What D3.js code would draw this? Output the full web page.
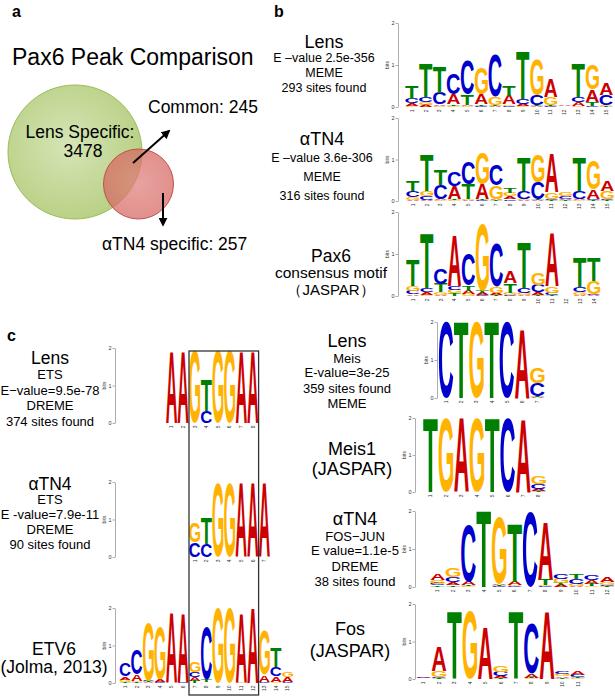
<!DOCTYPE html>
<html><head><meta charset="utf-8">
<script src="https://cdn.jsdelivr.net/npm/d3@7"></script>
<style>
body{margin:0;background:#fff}
svg{display:block}
text{font-family:"Liberation Sans",Arial,Helvetica,sans-serif}
</style>
</head><body>
<svg id="fig" width="615" height="697"></svg>
<script>
// ---------------- DATA ----------------
const bases = ["A", "C", "G", "T"];
const baseColors = ["#cc0000", "#0000cc", "#ffb300", "#008000"];

// Venn counts
const vennLabels = ["Lens Specific:", "3478", "Common: 245", "\u03b1TN4 specific: 257"];
const vennTitle = "Pax6 Peak Comparison";

// Logo columns: information (bits) per base, ordered [A, C, G, T]
const lensMeme = [
  [0.06,0.11,0.03,0.32],[0.05,0.12,0.07,0.80],[0.04,0.27,0.02,0.62],[0.25,0.50,0.02,0.04],
  [0.03,0.80,0.02,0.25],[0.24,0.03,0.63,0.03],[0.02,1.00,0.20,0.02],[0.20,0.03,0.03,0.24],
  [0.05,0.12,0.03,1.15],[0.02,0.24,0.83,0.02],[0.44,0.02,0.20,0.02],[0.02,0.01,0.01,0.01],
  [0.08,0.12,0.03,0.80],[0.28,0.03,0.60,0.10],[0.28,0.24,0.03,0.02]
];
const atn4Meme = [
  [0.03,0.14,0.06,0.26],[0.03,0.10,0.12,0.87],[0.03,0.33,0.02,0.36],[0.30,0.33,0.02,0.03],
  [0.02,0.53,0.02,0.36],[0.36,0.02,0.75,0.02],[0.03,0.52,0.32,0.02],[0.07,0.04,0.08,0.12],
  [0.02,0.20,0.02,0.81],[0.02,0.40,0.67,0.02],[0.95,0.03,0.16,0.02],[0.03,0.06,0.10,0.02],
  [0.03,0.20,0.02,0.80],[0.22,0.03,0.70,0.02],[0.26,0.03,0.20,0.02]
];
const pax6Jaspar = [
  [0.04,0.08,0.12,0.63],[0.07,0.10,0.02,1.31],[0.03,0.36,0.06,0.20],[1.19,0.10,0.08,0.06],
  [0.08,0.75,0.05,0.12],[0.05,0.03,1.60,0.05],[0.05,1.03,0.15,0.03],[0.27,0.02,0.06,0.22],
  [0.03,0.12,0.05,1.07],[0.06,0.17,0.28,0.03],[1.27,0.05,0.16,0.02],[0,0,0,0],
  [0.03,0.12,0.06,0.71],[0.02,0.02,0.32,0.56]
];
const lensEts = [
  [1.92,0,0,0],[1.92,0,0,0],[0,0,1.92,0],[0,0.32,0,0.82],
  [0,0,1.92,0],[0,0,1.92,0],[1.92,0,0,0],[1.92,0,0,0]
];
const atn4Ets = [
  [0,0.40,0.53,0],[0,0.36,0,0.70],[0,0,1.96,0],[0,0,1.96,0],
  [1.96,0,0,0],[1.96,0,0,0],[1.96,0,0,0]
];
const etv6Jolma = [
  [0.08,0.34,0.07,0.02],[0.16,0.67,0.04,0.02],[0.02,0.03,1.55,0.02],[0.06,0.02,1.40,0.01],
  [1.87,0,0,0],[1.84,0.02,0,0],[0.10,0.13,0.27,0.05],[0.01,1.40,0.01,0.08],
  [0,0,2.0,0],[0,0,2.0,0],[1.82,0,0.03,0],[2.0,0,0,0],
  [0.18,0.02,1.20,0.01],[0.15,0.25,0.02,0.53],[0.12,0.02,0.13,0.01]
];
const lensMeis = [
  [0,2.0,0,0],[0,0,0,2.0],[0,0,2.0,0],[0,0,0,2.0],[0,2.0,0,0],[1.80,0,0,0],[0.02,0.35,0.40,0.02]
];
const meis1Jaspar = [
  [0,0,0,2.0],[0,0,2.0,0],[2.0,0,0,0],[0,0,2.0,0],[0,0,0,2.0],[0,2.0,0,0],[1.95,0,0,0],[0.05,0.15,0.20,0.02]
];
const atn4FosJun = [
  [0.16,0.05,0.10,0.04],[0.08,0.13,0.25,0.04],[0.10,1.50,0.02,0.02],[0,0,0,2.0],
  [0.04,0.02,1.75,0.03],[0.10,0.02,0.02,1.54],[0,1.98,0,0],[1.50,0.02,0.02,0.18],
  [0.05,0.14,0.12,0.05],[0.03,0.12,0.06,0.13],[0.10,0.15,0.03,0.05],[0.13,0.03,0.08,0.02]
];
const fosJaspar = [
  [0.03,0.02,0.01,0.01],[0.66,0.04,0.16,0.02],[0,0,0,1.81],[0,0,1.81,0],
  [1.40,0,0,0],[0.05,0.12,0.18,0.02],[0,0,0,1.81],[0.10,1.33,0.02,0.02],
  [1.81,0,0,0],[0.04,0.06,0.05,0.03],[0.10,0.08,0.02,0.02]
];

// Text blocks
const lensMemeText = ["Lens", "E \u2013value 2.5e-356", "MEME", "293 sites found"];
const atn4MemeText = ["\u03b1TN4", "E \u2013value 3.6e-306", "MEME", "316 sites found"];
const pax6Text = ["Pax6", "consensus motif", "\uff08JASPAR\uff09"];
const lensEtsText = ["Lens", "ETS", "E\u2212value=9.5e-78", "DREME", "374 sites found"];
const atn4EtsText = ["\u03b1TN4", "ETS", "E -value=7.9e-11", "DREME", "90 sites found"];
const etv6Text = ["ETV6", "(Jolma, 2013)"];
const lensMeisText = ["Lens", "Meis", "E-value=3e-25", "359 sites found", "MEME"];
const meis1Text = ["Meis1", "(JASPAR)"];
const atn4FosText = ["\u03b1TN4", "FOS\u2212JUN", "E value=1.1e-5", "DREME", "38 sites found"];
const fosText = ["Fos", "(JASPAR)"];
const bitTicks = [0, 1, 2];

// ---------------- DRAWING ----------------
const svg = d3.select("#fig");
const FONT = '"Liberation Sans", Arial, Helvetica, sans-serif';

function addText(x, y, str, size, opts = {}) {
  return svg.append("text").attr("x", x).attr("y", y)
    .attr("font-size", size).attr("text-anchor", opts.anchor || "middle")
    .attr("font-weight", opts.weight || "normal").attr("fill", opts.fill || "#000")
    .text(str);
}
function textBlock(cx, baselines, lines, sizes) {
  lines.forEach((s, i) => addText(cx, baselines[i], s, sizes[i]));
}

// glyph ink measurements
const ctx = document.createElement("canvas").getContext("2d");
ctx.font = 'bold 100px "Liberation Sans"';
const metrics = {};
bases.forEach(b => {
  const m = ctx.measureText(b);
  let L = m.actualBoundingBoxLeft, R = m.actualBoundingBoxRight,
      A = m.actualBoundingBoxAscent, D = m.actualBoundingBoxDescent;
  if (!(R > 0) || !(A > 0)) { L = -5; R = m.width - 5; A = 72; D = 0; }
  metrics[b] = {L, R, A, D};
});

function glyph(parent, b, x0, yb, w, h, color) {
  if (h < 0.7) return;
  const m = metrics[b];
  const sx = w / (m.L + m.R), sy = h / (m.A + m.D);
  parent.append("text")
    .attr("transform", `translate(${x0 + m.L * sx},${yb - m.D * sy}) scale(${sx},${sy})`)
    .attr("font-size", 100).attr("font-weight", "bold").attr("fill", color)
    .style("font-family", '"Liberation Sans"')
    .text(b);
}

function drawLogo(data, cfg) {
  const n = data.length;
  const g = svg.append("g");
  const y = d3.scaleLinear().domain([0, 2]).range([cfg.y0, cfg.y2]);
  const x = d3.scaleBand().domain(d3.range(1, n + 1))
    .range([cfg.x0, cfg.x0 + n * cfg.colW]).paddingInner(0.05).paddingOuter(0.02);
  const ax = g.append("g").attr("transform", `translate(${cfg.axisX},0)`)
    .call(d3.axisLeft(y).tickValues(bitTicks).tickSize(2.5).tickSizeOuter(0).tickPadding(1).tickFormat(d3.format("d")));
  ax.attr("font-family", FONT).attr("font-size", 5.5);
  ax.select(".domain").attr("stroke", "#999").attr("stroke-width", 0.8);
  ax.selectAll(".tick line").attr("stroke", "#777").attr("stroke-width", 0.6);
  ax.selectAll(".tick text").attr("font-size", 5.5).attr("fill", "#333");
  g.append("text").attr("transform", `translate(${cfg.axisX - 9},${(cfg.y0 + cfg.y2) / 2}) rotate(-90)`)
    .attr("text-anchor", "middle").attr("font-size", 5).attr("fill", "#333").text("bits");
  data.forEach((col, i) => {
    const items = bases.map((b, k) => ({b, k, h: col[k]})).filter(d => d.h > 0.004)
      .sort((a, c) => a.h - c.h);
    let acc = 0;
    items.forEach(it => {
      const yb = y(acc), yt = y(acc + it.h);
      glyph(g, it.b, x(i + 1), yb, x.bandwidth(), yb - yt, baseColors[it.k]);
      acc += it.h;
    });
    g.append("text")
      .attr("transform", `translate(${x(i + 1) + x.bandwidth() / 2 + 1.8},${cfg.y0 + 2.5}) rotate(-90)`)
      .attr("text-anchor", "end").attr("font-size", 5).attr("fill", "#333").text(i + 1);
  });
}

// ---- Panel a: Venn ----
const defs = svg.append("defs");
const gg = defs.append("radialGradient").attr("id", "gGreen").attr("cx", "45%").attr("cy", "45%").attr("r", "60%");
gg.append("stop").attr("offset", "0%").attr("stop-color", "#d6e5b6");
gg.append("stop").attr("offset", "100%").attr("stop-color", "#b7cf82");
const gr = defs.append("radialGradient").attr("id", "gRed").attr("cx", "50%").attr("cy", "50%").attr("r", "60%");
gr.append("stop").attr("offset", "0%").attr("stop-color", "#e07f7b");
gr.append("stop").attr("offset", "100%").attr("stop-color", "#d4605b");
const mk = defs.append("marker").attr("id", "arrow").attr("viewBox", "0 0 10 10")
  .attr("refX", 8).attr("refY", 5).attr("markerWidth", 4.5).attr("markerHeight", 4.5).attr("orient", "auto");
mk.append("path").attr("d", "M0,0 L10,5 L0,10 z").attr("fill", "#000");

addText(12, 17, "a", 16, {anchor: "start", weight: "bold"});
addText(274, 17, "b", 16, {anchor: "start", weight: "bold"});
addText(12, 65, vennTitle, 23, {anchor: "start"});

svg.append("circle").attr("cx", 75).attr("cy", 152).attr("r", 67)
  .attr("fill", "url(#gGreen)").attr("stroke", "#9cbb5a").attr("stroke-width", 1);
addText(80, 138, vennLabels[0], 17.5);
addText(83, 157, vennLabels[1], 17.5);
svg.append("circle").attr("cx", 138.5).attr("cy", 184).attr("r", 35)
  .attr("fill", "url(#gRed)").attr("fill-opacity", 0.72).attr("stroke", "#c0504d").attr("stroke-width", 1);
svg.append("line").attr("x1", 133).attr("y1", 163).attr("x2", 169).attr("y2", 131)
  .attr("stroke", "#000").attr("stroke-width", 2).attr("marker-end", "url(#arrow)");
svg.append("line").attr("x1", 163).attr("y1", 193).attr("x2", 163).attr("y2", 225)
  .attr("stroke", "#000").attr("stroke-width", 2).attr("marker-end", "url(#arrow)");
addText(148, 113, vennLabels[2], 17.5, {anchor: "start"});
addText(102, 250, vennLabels[3], 17.5, {anchor: "start"});

// ---- Panel b ----
textBlock(324, [48, 62, 77, 92], lensMemeText, [18, 12.5, 12.5, 12.5]);
textBlock(322, [145, 162, 181, 200], atn4MemeText, [18, 12.5, 12.5, 12.5]);
textBlock(331, [262, 278, 295], pax6Text, [17.5, 15.5, 15]);
drawLogo(lensMeme, {axisX: 398, y0: 107, y2: 23, x0: 405, colW: 13.87});
drawLogo(atn4Meme, {axisX: 398, y0: 201, y2: 118, x0: 406, colW: 13.87});
drawLogo(pax6Jaspar, {axisX: 398, y0: 296, y2: 212, x0: 406, colW: 13.9});

// ---- Panel c ----
addText(7, 341, "c", 16, {anchor: "start", weight: "bold"});
textBlock(50, [364, 379, 395, 410, 426], lensEtsText, [17.5, 13, 13, 13, 13]);
textBlock(50, [490, 504, 519, 534, 549], atn4EtsText, [17.5, 13, 13, 13, 13]);
textBlock(54, [655, 673], etv6Text, [17.5, 17.5]);
drawLogo(lensEts, {axisX: 115, y0: 423, y2: 348, x0: 165.8, colW: 11.6});
drawLogo(atn4Ets, {axisX: 115, y0: 557, y2: 482, x0: 189, colW: 11.6});
drawLogo(etv6Jolma, {axisX: 115, y0: 683, y2: 608, x0: 119.4, colW: 11.6});
svg.append("rect").attr("x", 189).attr("y", 351).attr("width", 69.6).attr("height", 344)
  .attr("fill", "none").attr("stroke", "#333").attr("stroke-width", 1.3);

textBlock(347, [347, 363, 377, 393, 408], lensMeisText, [18, 13, 13, 13, 13]);
textBlock(352, [455, 475], meis1Text, [18, 18]);
textBlock(355, [525, 541, 555, 571, 586], atn4FosText, [18, 13, 13, 13, 13]);
textBlock(350, [635, 657], fosText, [18, 18]);
drawLogo(lensMeis, {axisX: 437, y0: 398, y2: 322, x0: 438.5, colW: 15.2});
drawLogo(meis1Jaspar, {axisX: 415, y0: 492, y2: 418, x0: 423, colW: 15.4});
drawLogo(atn4FosJun, {axisX: 415, y0: 587, y2: 511, x0: 430, colW: 15.4});
drawLogo(fosJaspar, {axisX: 415, y0: 679, y2: 604, x0: 416, colW: 15.4});
</script>
</body></html>
